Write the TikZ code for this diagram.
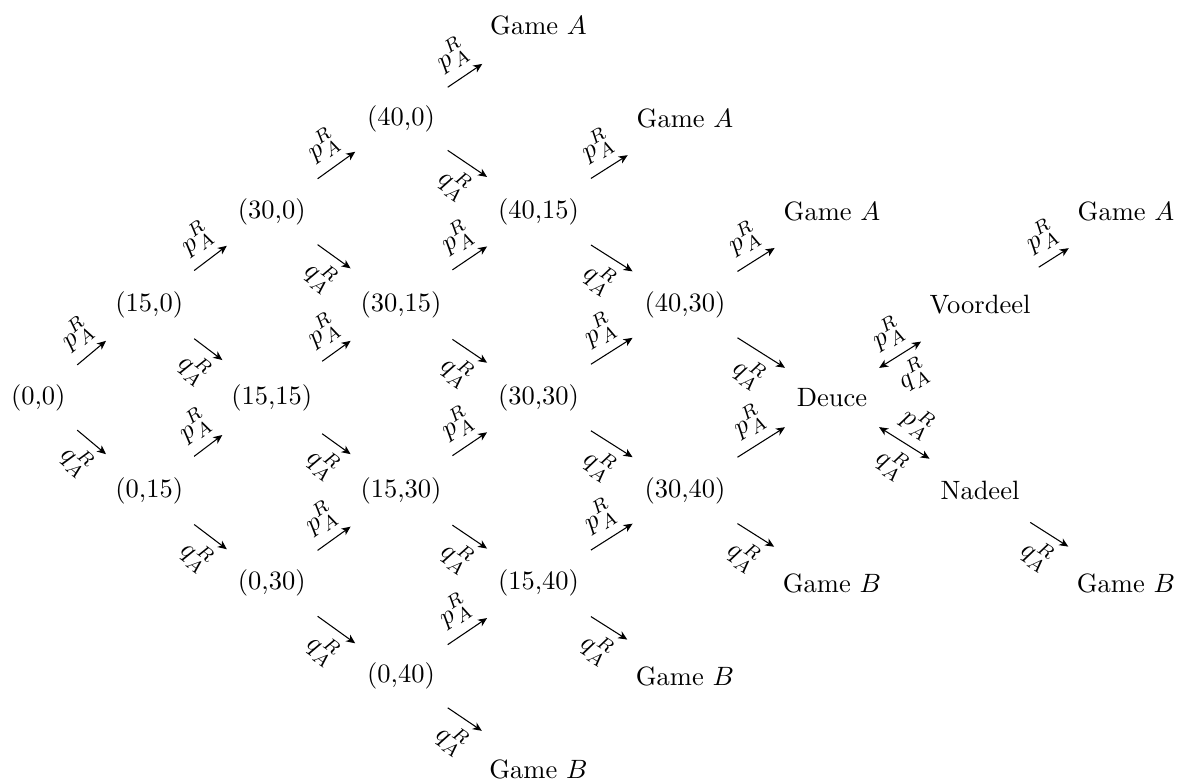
\documentclass[tikz,border=0pt]{standalone}
\usetikzlibrary{arrows.meta}
\begin{document}
\begin{tikzpicture}[x=0.37736pt, y=-0.37736pt,
  >={Stealth[length=3.4pt,width=3pt,inset=1pt]},
  state/.style={circle, inner sep=5.5pt},
  pl/.style={sloped, above},
  ql/.style={sloped, below}]
\useasboundingbox (0,0) rectangle (1177,780);

% score states (columns left to right, rows top to bottom)
\node[state] (s00) at (38.3,397.5) {(0,0)};
\node[state] (s150) at (149.2,304.6) {(15,0)};
\node[state] (s015) at (149.2,490.4) {(0,15)};
\node[state] (s300) at (271.8,211.7) {(30,0)};
\node[state] (s1515) at (271.8,397.5) {(15,15)};
\node[state] (s030) at (271.8,583.3) {(0,30)};
\node[state] (s400) at (401,118.8) {(40,0)};
\node[state] (s3015) at (401,304.6) {(30,15)};
\node[state] (s1530) at (401,490.4) {(15,30)};
\node[state] (s040) at (401,676.2) {(0,40)};
\node[state] (ga1) at (538.5,25.9) {Game $A$};
\node[state] (s4015) at (538.5,211.7) {(40,15)};
\node[state] (s3030) at (538.5,397.5) {(30,30)};
\node[state] (s1540) at (538.5,583.3) {(15,40)};
\node[state] (gb1) at (538.5,769.1) {Game $B$};
\node[state] (ga2) at (685,118.8) {Game $A$};
\node[state] (s4030) at (685,304.6) {(40,30)};
\node[state] (s3040) at (685,490.4) {(30,40)};
\node[state] (gb2) at (685,676.2) {Game $B$};
\node[state] (ga3) at (832,211.7) {Game $A$};
\node[state] (deuce) at (832,397.5) {Deuce};
\node[state] (gb3) at (832,583.3) {Game $B$};
\node[state] (adv) at (980,304.6) {Voordeel};
\node[state] (dis) at (980,490.4) {Nadeel};
\node[state] (ga4) at (1126,211.7) {Game $A$};
\node[state] (gb4) at (1126,583.3) {Game $B$};

% point won by A
\foreach \a/\b in {s00/s150, s150/s300, s300/s400, s400/ga1,
                   s015/s1515, s1515/s3015, s3015/s4015, s4015/ga2,
                   s030/s1530, s1530/s3030, s3030/s4030, s4030/ga3,
                   s040/s1540, s1540/s3040, s3040/deuce, adv/ga4}
  \draw[->] (\a) -- node[pl] {$p^R_A$} (\b);

% point won by B
\foreach \a/\b in {s00/s015, s150/s1515, s300/s3015, s400/s4015,
                   s015/s030, s1515/s1530, s3015/s3030, s4015/s4030,
                   s030/s040, s1530/s1540, s3030/s3040, s4030/deuce,
                   s040/gb1, s1540/gb2, s3040/gb3, dis/gb4}
  \draw[->] (\a) -- node[ql] {$q^R_A$} (\b);

% advantage and disadvantage around deuce
\draw[<->] (deuce) -- node[pl] {$p^R_A$} node[ql] {$q^R_A$} (adv);
\draw[<->] (deuce) -- node[pl] {$p^R_A$} node[ql] {$q^R_A$} (dis);
\end{tikzpicture}
\end{document}
